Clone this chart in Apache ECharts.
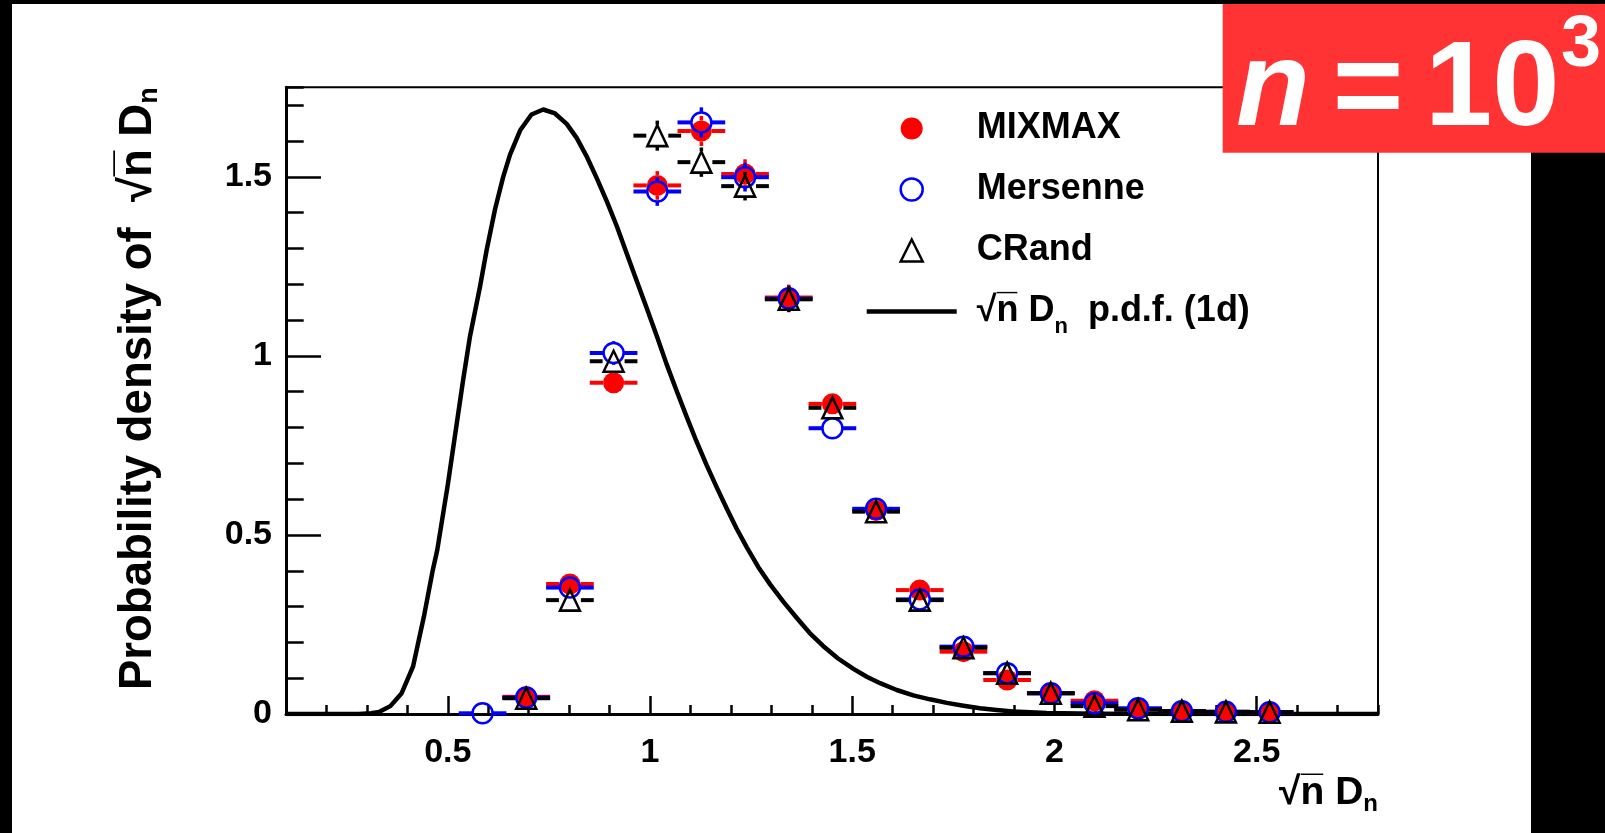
<!DOCTYPE html>
<html>
<head>
<meta charset="utf-8">
<script src="https://cdn.jsdelivr.net/npm/echarts@6/dist/echarts.min.js"></script>
<style>
  html, body { margin: 0; padding: 0; background: #fff; }
  #chart { width: 1605px; height: 833px; }
</style>
</head>
<body>
<div id="chart"></div>
<script>
// Histogram bin centres of sqrt(n) D_n and the bin half-width
const binCenters = [0.586, 0.694, 0.802, 0.910, 1.018, 1.127, 1.235, 1.343, 1.451, 1.559,
                    1.667, 1.775, 1.883, 1.991, 2.099, 2.207, 2.315, 2.424, 2.532];
const binHalfWidth = 0.054;

// Normalised densities per generator (null = empty bin) and their statistical errors
const mixmaxValues = [null, 0.048, 0.363, 0.925, 1.476, 1.628, 1.508, 1.163, 0.866, 0.568,
                      0.346, 0.174, 0.095, 0.058, 0.037, 0.013, 0.008, 0.006, 0.005];
const mixmaxErrors = [null, 0.007, 0.020, 0.032, 0.040, 0.042, 0.041, 0.036, 0.031, 0.025,
                      0.019, 0.014, 0.010, 0.008, 0.006, 0.004, 0.003, 0.003, 0.002];

const mersenneValues = [0.002, 0.046, 0.353, 1.008, 1.459, 1.652, 1.499, 1.160, 0.798, 0.573,
                        0.320, 0.188, 0.114, 0.058, 0.030, 0.016, 0.008, 0.006, 0.005];
const mersenneErrors = [0.002, 0.007, 0.020, 0.033, 0.040, 0.042, 0.040, 0.036, 0.029, 0.025,
                        0.019, 0.014, 0.011, 0.008, 0.006, 0.004, 0.003, 0.003, 0.002];

const crandValues = [null, 0.044, 0.318, 0.985, 1.615, 1.541, 1.474, 1.158, 0.855, 0.565,
                     0.318, 0.185, 0.114, 0.058, 0.022, 0.012, 0.008, 0.006, 0.005];
const crandErrors = [null, 0.007, 0.019, 0.033, 0.042, 0.041, 0.040, 0.036, 0.031, 0.025,
                     0.019, 0.014, 0.011, 0.008, 0.005, 0.004, 0.003, 0.003, 0.002];

// Asymptotic (Kolmogorov) density of sqrt(n) D_n, sampled along the curve
const pdfCurve = [
  [0.10, 0.000], [0.20, 0.000], [0.28, 0.000], [0.31, 0.002], [0.331, 0.006], [0.358, 0.022],
  [0.386, 0.058], [0.414, 0.132], [0.441, 0.272], [0.463, 0.402], [0.474, 0.458], [0.500, 0.640],
  [0.538, 0.933], [0.555, 1.055], [0.580, 1.195], [0.596, 1.295], [0.617, 1.410], [0.637, 1.500],
  [0.654, 1.562], [0.679, 1.630], [0.707, 1.674], [0.736, 1.688], [0.765, 1.677], [0.794, 1.648],
  [0.819, 1.608], [0.843, 1.558], [0.868, 1.497], [0.893, 1.432], [0.918, 1.362], [0.942, 1.287],
  [0.967, 1.210], [0.992, 1.133], [1.017, 1.055], [1.041, 0.977], [1.066, 0.902], [1.091, 0.829],
  [1.115, 0.761], [1.140, 0.695], [1.165, 0.633], [1.190, 0.573], [1.214, 0.518], [1.239, 0.466],
  [1.268, 0.410], [1.297, 0.362], [1.330, 0.313], [1.363, 0.268], [1.395, 0.226], [1.428, 0.190],
  [1.465, 0.155], [1.503, 0.126], [1.536, 0.104], [1.569, 0.086], [1.610, 0.067], [1.651, 0.052],
  [1.692, 0.041], [1.734, 0.031], [1.775, 0.023], [1.816, 0.016], [1.857, 0.011], [1.898, 0.007],
  [1.940, 0.005], [1.981, 0.003], [2.100, 0.001], [2.300, 0.000], [2.800, 0.000]
];

// Axis ranges and labelled ticks
const xRange = [0.1, 2.8];
const yRange = [0, 1.75];
const xMajorTicks = [0.5, 1, 1.5, 2, 2.5];
const yMajorTicks = [0, 0.5, 1, 1.5];

const FONT = 'Liberation Sans';
const RED = '#ff0000', BLUE = '#0000ff', BLACK = '#000000';

function points(values, errors) {
  const out = [];
  binCenters.forEach((x, i) => {
    if (values[i] !== null) out.push([x, values[i], errors[i]]);
  });
  return out;
}

// Error bars in the ROOT style: the horizontal bar spans the bin, both bars stop at the marker edge
function errorBarRenderer(color, markerRadius) {
  return function (params, api) {
    const x = api.value(0), y = api.value(1), e = api.value(2);
    const c = api.coord([x, y]);
    const l = api.coord([x - binHalfWidth, y]);
    const r = api.coord([x + binHalfWidth, y]);
    const t = api.coord([x, y + e]);
    const b = api.coord([x, y - e]);
    const style = { stroke: color, lineWidth: 4, lineCap: 'square' };
    const gap = markerRadius + 2;
    const children = [
      { type: 'line', shape: { x1: l[0], y1: c[1], x2: c[0] - gap, y2: c[1] }, style: style },
      { type: 'line', shape: { x1: c[0] + gap, y1: c[1], x2: r[0], y2: c[1] }, style: style }
    ];
    if (c[1] - t[1] > markerRadius + 1) {
      const vs = { stroke: color, lineWidth: 3.5, lineCap: 'butt' };
      children.push({ type: 'line', shape: { x1: c[0], y1: c[1] - markerRadius, x2: c[0], y2: t[1] }, style: vs });
      children.push({ type: 'line', shape: { x1: c[0], y1: c[1] + markerRadius, x2: c[0], y2: b[1] }, style: vs });
    }
    return { type: 'group', children: children };
  };
}

const chart = echarts.init(document.getElementById('chart'), null, { renderer: 'canvas' });

const legendLabels = {
  'MIXMAX': 'MIXMAX',
  'Mersenne': 'Mersenne',
  'CRand': 'CRand',
  'pdf1d': '\u221An\u0305 D{sub|n}  p.d.f. (1d)'
};

const option = {
  backgroundColor: '#ffffff',
  animation: false,
  grid: {
    left: 286, top: 87.3, right: 227, bottom: 119,
    show: true, borderColor: BLACK, borderWidth: 2, backgroundColor: 'transparent'
  },
  xAxis: [
    {
      type: 'value', min: xRange[0], max: xRange[1], interval: 0.1, position: 'bottom',
      axisLine: { show: true, lineStyle: { color: BLACK, width: 3 } },
      axisTick: { show: true, inside: true, length: 9, lineStyle: { color: BLACK, width: 2.5 } },
      axisLabel: { show: false },
      splitLine: { show: false }
    },
    {
      type: 'value', min: xRange[0], max: xRange[1], position: 'bottom',
      axisLine: { show: false },
      axisTick: { show: true, inside: true, length: 18, customValues: xMajorTicks,
                  lineStyle: { color: BLACK, width: 2.5 } },
      axisLabel: { show: true, customValues: xMajorTicks, margin: 39, verticalAlign: 'middle',
                   color: BLACK, fontFamily: FONT, fontWeight: 'bold', fontSize: 34 },
      splitLine: { show: false }
    }
  ],
  yAxis: [
    {
      type: 'value', min: yRange[0], max: yRange[1], interval: 0.1, position: 'left',
      axisLine: { show: true, lineStyle: { color: BLACK, width: 3 } },
      axisTick: { show: true, inside: true, length: 17.7, lineStyle: { color: BLACK, width: 2.5 } },
      axisLabel: { show: false },
      splitLine: { show: false }
    },
    {
      type: 'value', min: yRange[0], max: yRange[1], position: 'left',
      axisLine: { show: false },
      axisTick: { show: true, inside: true, length: 35, customValues: yMajorTicks,
                  lineStyle: { color: BLACK, width: 2.5 } },
      axisLabel: { show: true, customValues: yMajorTicks, margin: 14,
                   color: BLACK, fontFamily: FONT, fontWeight: 'bold', fontSize: 34 },
      splitLine: { show: false }
    }
  ],
  legend: {
    orient: 'vertical', left: 866.7, top: 102.5, padding: 0,
    itemWidth: 90, itemHeight: 22, itemGap: 9, selectedMode: false, symbolKeepAspect: true,
    data: [
      { name: 'MIXMAX', icon: 'circle', itemStyle: { color: RED, borderWidth: 0 } },
      { name: 'Mersenne', icon: 'circle',
        itemStyle: { color: 'rgba(0,0,0,0)', borderColor: BLUE, borderWidth: 2.5 } },
      { name: 'CRand', icon: 'path://M10,0L20,20L0,20Z',
        itemStyle: { color: 'rgba(0,0,0,0)', borderColor: BLACK, borderWidth: 2.5 } },
      { name: 'pdf1d', icon: 'path://M0,0L90,0L90,4.5L0,4.5Z',
        itemStyle: { color: BLACK, borderWidth: 0 } }
    ],
    formatter: name => legendLabels[name],
    textStyle: {
      color: BLACK, fontFamily: FONT, fontWeight: 'bold', fontSize: 36, lineHeight: 52,
      padding: [0, 0, 0, 15],
      rich: {
        sub: { color: BLACK, fontFamily: FONT, fontWeight: 'bold', fontSize: 22,
               lineHeight: 20, verticalAlign: 'bottom' }
      }
    }
  },
  series: [
    {
      name: 'pdf1d', type: 'line', xAxisIndex: 0, yAxisIndex: 0, data: pdfCurve,
      showSymbol: false, symbol: 'none', smooth: false,
      lineStyle: { color: BLACK, width: 4.5, join: 'round' }, itemStyle: { color: BLACK }, z: 2
    },
    {
      name: 'MIXMAX bars', type: 'custom', xAxisIndex: 0, yAxisIndex: 0,
      data: points(mixmaxValues, mixmaxErrors), renderItem: errorBarRenderer(RED, 10.5), z: 3
    },
    {
      name: 'MIXMAX', type: 'scatter', xAxisIndex: 0, yAxisIndex: 0,
      data: points(mixmaxValues, mixmaxErrors), symbol: 'circle', symbolSize: 21,
      itemStyle: { color: RED, opacity: 1 }, z: 4
    },
    {
      name: 'Mersenne bars', type: 'custom', xAxisIndex: 0, yAxisIndex: 0,
      data: points(mersenneValues, mersenneErrors), renderItem: errorBarRenderer(BLUE, 10.5), z: 5
    },
    {
      name: 'Mersenne', type: 'scatter', xAxisIndex: 0, yAxisIndex: 0,
      data: points(mersenneValues, mersenneErrors), symbol: 'circle', symbolSize: 20,
      itemStyle: { color: 'rgba(0,0,0,0)', borderColor: BLUE, borderWidth: 2.5, opacity: 1 }, z: 6
    },
    {
      name: 'CRand bars', type: 'custom', xAxisIndex: 0, yAxisIndex: 0,
      data: points(crandValues, crandErrors), renderItem: errorBarRenderer(BLACK, 11), z: 7
    },
    {
      name: 'CRand', type: 'scatter', xAxisIndex: 0, yAxisIndex: 0,
      data: points(crandValues, crandErrors), symbol: 'triangle', symbolSize: [20, 21],
      itemStyle: { color: 'rgba(0,0,0,0)', borderColor: BLACK, borderWidth: 2.5, opacity: 1 }, z: 8
    }
  ],
  graphic: [
    // dark edges of the canvas
    { type: 'rect', z: 100, shape: { x: 0, y: 0, width: 1605, height: 4 }, style: { fill: '#000' } },
    { type: 'rect', z: 100, shape: { x: 0, y: 0, width: 12, height: 833 }, style: { fill: '#000' } },
    { type: 'rect', z: 100, shape: { x: 1531, y: 152, width: 74, height: 681 }, style: { fill: '#000' } },
    // sample size badge
    { type: 'rect', z: 100, shape: { x: 1222.7, y: 4, width: 382.3, height: 148.7 }, style: { fill: '#ff3333' } },
    { type: 'text', z: 101, x: 1236, y: 91.5,
      style: { text: 'n', fill: '#fff', font: 'italic bold 121px "Liberation Sans"',
               align: 'left', verticalAlign: 'middle' } },
    { type: 'text', z: 101, x: 1368, y: 92.5,
      style: { text: '=', fill: '#fff', font: 'bold 121px "Liberation Sans"',
               align: 'center', verticalAlign: 'middle' } },
    { type: 'text', z: 101, x: 1425, y: 91.5,
      style: { text: '10', fill: '#fff', font: 'bold 121px "Liberation Sans"',
               align: 'left', verticalAlign: 'middle' } },
    { type: 'text', z: 101, x: 1561, y: 46,
      style: { text: '3', fill: '#fff', font: 'bold 72px "Liberation Sans"',
               align: 'left', verticalAlign: 'middle' } },
    // axis titles
    { type: 'text', z: 50, x: 1378, y: 793.5,
      style: { text: '\u221An\u0305 D{sub|n}', fill: BLACK, fontFamily: FONT, fontWeight: 'bold',
               fontSize: 39, lineHeight: 46, align: 'right', verticalAlign: 'middle',
               rich: { sub: { fill: BLACK, fontFamily: FONT, fontWeight: 'bold', fontSize: 24,
                              lineHeight: 20, verticalAlign: 'bottom' } } } },
    { type: 'text', z: 50, x: 138, y: 87.3, rotation: Math.PI / 2,
      style: { text: 'Probability density of  \u221An\u0305 D{sub|n}', fill: BLACK, fontFamily: FONT,
               fontWeight: 'bold', fontSize: 45.5, lineHeight: 50, align: 'right', verticalAlign: 'middle',
               rich: { sub: { fill: BLACK, fontFamily: FONT, fontWeight: 'bold', fontSize: 27,
                              lineHeight: 32, verticalAlign: 'bottom' } } } }
  ]
};

chart.setOption(option);
</script>
</body>
</html>
